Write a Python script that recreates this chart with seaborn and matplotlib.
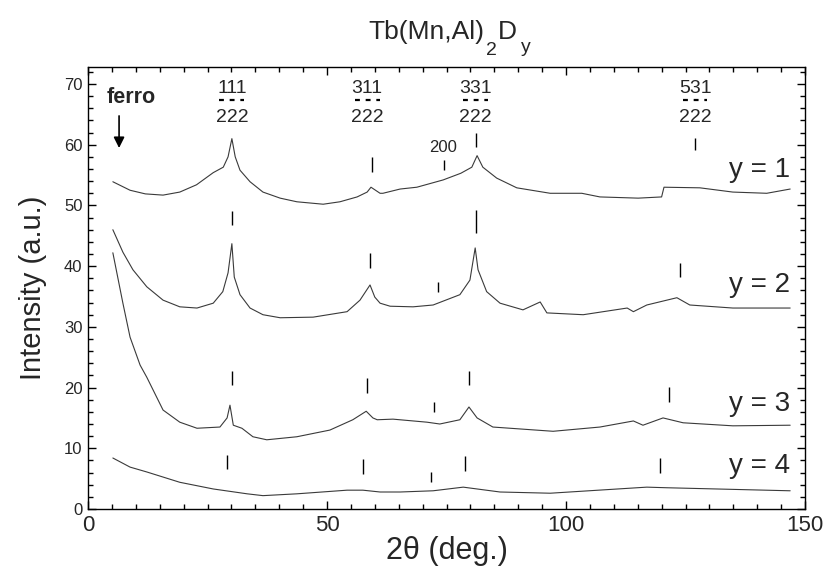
import numpy as np
import pandas as pd
import matplotlib
matplotlib.use('Agg')
from matplotlib import pyplot as plt
from matplotlib.ticker import MultipleLocator
import seaborn as sns

sns.set_style('ticks')
plt.rcParams['font.family'] = ['Liberation Sans', 'DejaVu Sans']

# spectra (2theta in deg., intensity in a.u.)
y1_x = [5.2, 8.8, 12.0, 15.7, 19.2, 22.7, 26.2, 28.3, 29.3, 30.1, 30.8, 31.8, 33.9, 36.6, 40.2, 43.7,
        49.2, 52.7, 56.3, 58.4, 59.2, 61.1, 61.7, 65.3, 68.8, 74.3, 78.0, 80.3, 81.4, 82.6, 85.5, 89.7,
        96.7, 103.3, 107.1, 115.1, 120.0, 120.5, 128.0, 134.9, 142.0, 146.9]
y1_y = [53.9, 52.5, 51.9, 51.7, 52.2, 53.4, 55.4, 56.3, 58.0, 61.0, 58.0, 55.8, 53.9, 52.2, 51.2, 50.6,
        50.2, 50.6, 51.4, 52.2, 53.0, 52.0, 52.0, 52.7, 53.0, 54.2, 55.3, 56.3, 58.2, 56.3, 54.5, 52.9,
        52.0, 52.0, 51.4, 51.2, 51.4, 53.0, 52.9, 52.2, 52.0, 52.7]

y2_x = [5.2, 7.3, 9.4, 12.3, 15.7, 19.2, 22.8, 26.2, 28.2, 29.3, 30.1, 30.6, 31.8, 33.9, 36.6, 40.2,
        47.1, 54.2, 56.9, 59.0, 60.0, 61.1, 63.2, 68.0, 72.2, 77.8, 79.9, 81.0, 81.6, 83.4, 86.2, 91.0,
        94.6, 96.0, 103.6, 112.8, 114.1, 116.9, 123.2, 125.9, 134.9, 146.9]
y2_y = [46.0, 42.3, 39.4, 36.6, 34.4, 33.3, 33.1, 33.9, 35.8, 38.9, 43.7, 38.2, 35.3, 33.1, 32.0, 31.5,
        31.6, 32.5, 34.4, 36.9, 34.9, 33.9, 33.4, 33.3, 33.6, 35.3, 37.7, 43.0, 39.4, 35.8, 33.9, 32.8,
        34.1, 32.3, 32.0, 33.1, 32.5, 33.6, 34.8, 33.6, 33.1, 33.1]

y3_x = [5.2, 7.3, 8.8, 10.9, 12.3, 15.7, 19.2, 22.8, 27.6, 29.1, 29.7, 30.4, 32.2, 34.5, 37.4, 43.7,
        50.6, 55.4, 58.2, 59.6, 60.5, 63.8, 70.9, 73.6, 77.8, 79.7, 81.4, 84.7, 97.3, 107.1, 114.1,
        116.1, 120.3, 124.5, 134.9, 146.9]
y3_y = [42.2, 33.9, 28.3, 23.7, 21.7, 16.3, 14.3, 13.3, 13.5, 15.0, 17.1, 13.8, 13.3, 11.9, 11.4, 11.9,
        13.0, 14.7, 16.1, 15.0, 14.7, 14.8, 14.3, 14.0, 14.7, 16.8, 15.0, 13.5, 12.8, 13.5, 14.5,
        13.8, 15.0, 14.2, 13.7, 13.8]

y4_x = [5.2, 8.8, 12.3, 19.2, 26.2, 33.3, 36.6, 43.7, 54.2, 57.5, 61.1, 65.3, 72.2, 78.5, 86.2, 96.7,
        116.9, 121.1, 146.9]
y4_y = [8.4, 6.9, 6.1, 4.4, 3.3, 2.5, 2.2, 2.5, 3.1, 3.1, 2.8, 2.8, 3.0, 3.6, 2.8, 2.6,
        3.6, 3.5, 3.0]

series_names = ['y = 1', 'y = 2', 'y = 3', 'y = 4']
label_y = [55.8, 36.9, 17.3, 7.1]

# peak position markers
mark_x = [59.4, 81.2, 74.5, 127.0, 30.1, 59.0, 81.2, 73.2, 123.8,
          30.1, 58.4, 72.4, 79.7, 121.5, 29.1, 57.5, 71.8, 78.9, 119.7]
mark_lo = [55.5, 59.6, 55.8, 59.1, 46.8, 39.7, 45.5, 35.8, 38.2,
           20.4, 19.1, 16.0, 20.4, 17.6, 6.6, 5.8, 4.4, 6.3, 5.9]
mark_hi = [58.0, 62.0, 57.5, 61.1, 49.1, 42.2, 49.3, 37.4, 40.5,
           22.7, 21.6, 17.6, 22.7, 20.1, 8.9, 8.2, 6.1, 8.7, 8.4]

hkl_x = [30.1, 58.4, 81.0, 127.0]
hkl_num = ['111', '311', '331', '531']

frames = []
for name, xs, ys in zip(series_names, [y1_x, y2_x, y3_x, y4_x], [y1_y, y2_y, y3_y, y4_y]):
    frames.append(pd.DataFrame({'two_theta': xs, 'intensity': ys, 'sample': name}))
df = pd.concat(frames, ignore_index=True)

fig = plt.figure(figsize=(8.26, 5.70), dpi=100)
ax = fig.add_axes([88 / 826, 1 - 509 / 570, (805 - 88) / 826, (509 - 67) / 570])

for name in series_names:
    sub = df[df['sample'] == name]
    sns.lineplot(data=sub, x='two_theta', y='intensity', ax=ax, color='#3a3a3a',
                 linewidth=0.8, sort=False, estimator=None)

ax.vlines(mark_x, mark_lo, mark_hi, color='black', linewidth=1.0)

# hkl fractions with a dashed bar
for xx, num in zip(hkl_x, hkl_num):
    ax.text(xx, 69.2, num, ha='center', va='center', fontsize=14)
    ax.hlines(67.3, xx - 2.6, xx + 2.6, color='black', linewidth=1.6, linestyles=(0, (2.2, 2.6)))
    ax.text(xx, 64.4, '222', ha='center', va='center', fontsize=14)

ax.text(74.3, 59.5, '200', ha='center', va='center', fontsize=12)
for name, yy in zip(series_names, label_y):
    ax.text(146.9, yy, name, ha='right', va='center', fontsize=20)

ax.text(9.0, 67.7, 'ferro', ha='center', va='center', fontsize=15.5, fontweight='bold')
ax.annotate('', xy=(6.5, 59.0), xytext=(6.5, 65.2),
            arrowprops=dict(arrowstyle='-|>', color='black', lw=1.2, mutation_scale=16))

ax.set_xlim(0, 150)
ax.set_ylim(0, 72.8)
ax.xaxis.set_major_locator(MultipleLocator(50))
ax.xaxis.set_minor_locator(MultipleLocator(5))
ax.yaxis.set_major_locator(MultipleLocator(10))
ax.yaxis.set_minor_locator(MultipleLocator(2))
ax.tick_params(which='both', direction='in', top=True, right=True, width=1.0, color='black')
ax.tick_params(which='major', length=6)
ax.tick_params(which='minor', length=3.5)
ax.tick_params(axis='x', labelsize=16, pad=4)
ax.tick_params(axis='y', labelsize=12, pad=4)
for sp in ax.spines.values():
    sp.set_color('black')
    sp.set_linewidth(1.0)

ax.set_xlabel('2\u03b8 (deg.)', fontsize=22, labelpad=0)
ax.set_ylabel('Intensity (a.u.)', fontsize=21, labelpad=12)

# title with deep subscripts, laid out piece by piece
W, H = 826., 570.
renderer = fig.canvas.get_renderer()
pieces = [('Tb(Mn,Al)', 19, 39, 0), ('2', 14, 55, 2), ('D', 19, 39, 1), ('y', 14, 52, 4)]
xpix = 368.
for txt, size, base, gap in pieces:
    xpix += gap
    t = fig.text(xpix / W, 1 - base / H, txt, ha='left', va='baseline', fontsize=size)
    xpix = t.get_window_extent(renderer).x1

fig.savefig('out.png', dpi=100)
